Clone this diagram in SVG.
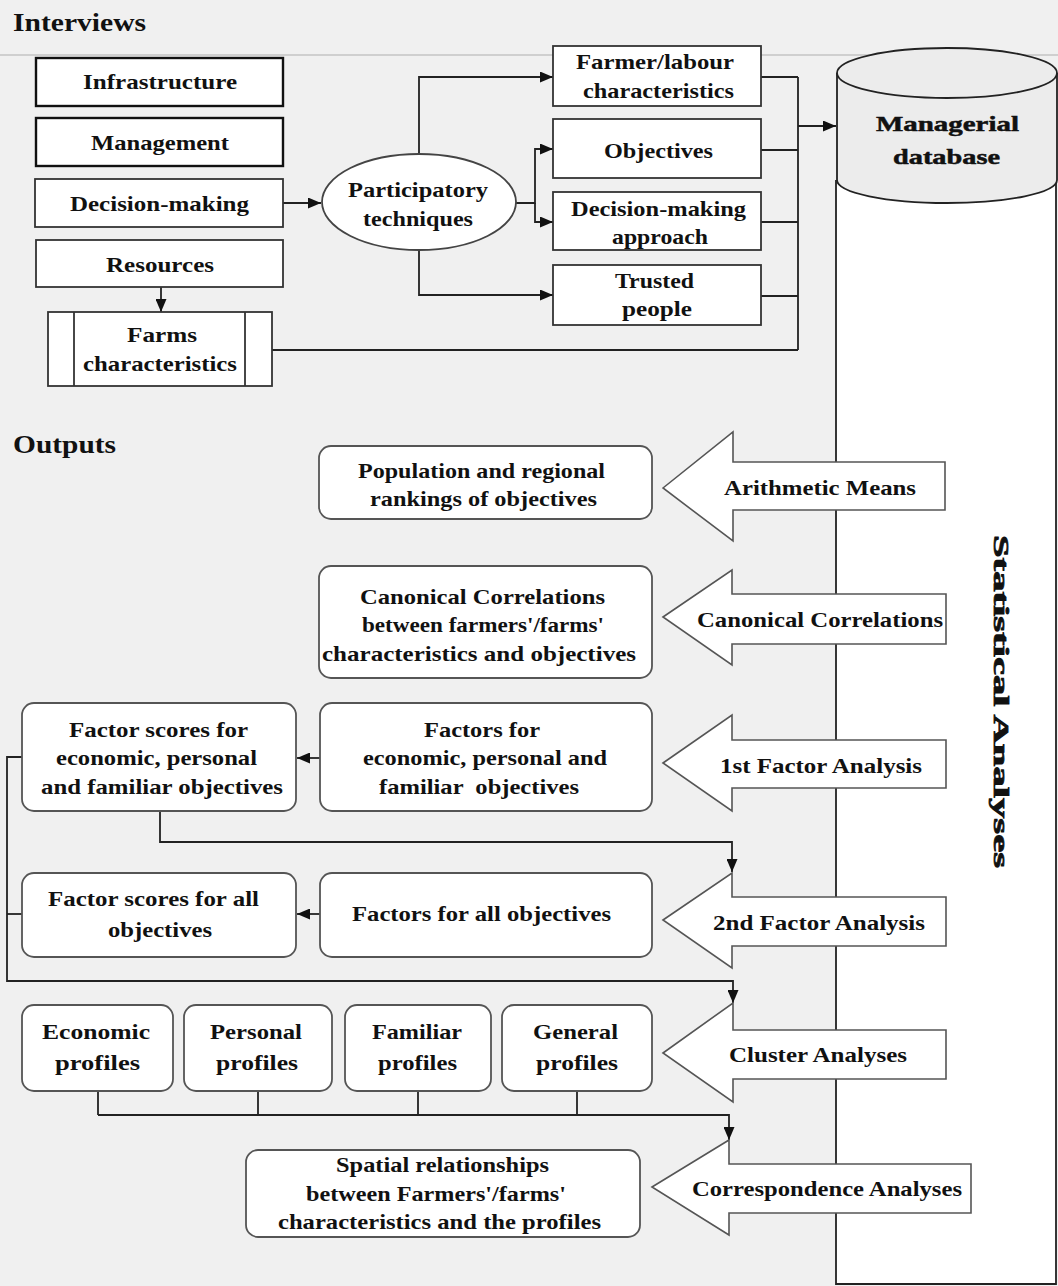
<svg xmlns="http://www.w3.org/2000/svg" width="1058" height="1286" viewBox="0 0 1058 1286">
<style>
.t{font-family:"Liberation Serif","DejaVu Serif",serif;font-weight:bold;font-size:22px;fill:#111}
.h{font-size:25px}
.bx{fill:#fff;stroke:#333;stroke-width:1.8}
.bk{fill:#fff;stroke:#111;stroke-width:2.4}
.rb{fill:#fff;stroke:#555;stroke-width:1.8}
.ba{fill:#fff;stroke:#555;stroke-width:1.6}
.c{fill:none;stroke:#222;stroke-width:1.8}
</style>
<defs>
<marker id="ah" markerWidth="13" markerHeight="11" refX="13" refY="5.5" orient="auto" markerUnits="userSpaceOnUse">
<path d="M0,0 L13,5.5 L0,11 z" fill="#111"/>
</marker>
</defs>
<rect x="0" y="0" width="1058" height="1286" fill="#f0f0f0"/>
<line x1="0" y1="55" x2="1058" y2="55" stroke="#c4c4c4" stroke-width="1.5"/>

<text class="t h" x="13" y="31" textLength="133" lengthAdjust="spacingAndGlyphs">Interviews</text>
<text class="t h" x="13" y="453" font-size="24" textLength="103" lengthAdjust="spacingAndGlyphs">Outputs</text>

<!-- Statistical analyses body and database -->
<g id="stats">
<path d="M836,180 V1284 H1056 V180" fill="#fff" stroke="#222" stroke-width="1.8"/>
<text class="t" transform="translate(994,535) rotate(90)" x="0" y="0" font-size="46" stroke="#111" stroke-width="0.8" textLength="333" lengthAdjust="spacingAndGlyphs">Statistical Analyses</text>
</g>
<g id="database">
<path d="M837,73 V180 A110,23 0 0 0 1057,180 V73" fill="#ececec" stroke="#222" stroke-width="1.8"/>
<ellipse cx="947" cy="73" rx="110" ry="25" fill="#ececec" stroke="#222" stroke-width="1.8"/>
<text class="t" x="876" y="131" font-size="27" stroke="#111" stroke-width="0.5" textLength="143" lengthAdjust="spacingAndGlyphs">Managerial</text>
<text class="t" x="893" y="164" font-size="27" stroke="#111" stroke-width="0.5" textLength="107" lengthAdjust="spacingAndGlyphs">database</text>
</g>

<g id="connectors">
<path class="c" d="M283,203 H321" marker-end="url(#ah)"/>
<path class="c" d="M161,287 V312" marker-end="url(#ah)"/>
<path class="c" d="M419,154 V77 H553" marker-end="url(#ah)"/>
<path class="c" d="M516,203 H535 V149 H553" marker-end="url(#ah)"/>
<path class="c" d="M535,203 V222 H553" marker-end="url(#ah)"/>
<path class="c" d="M419,250 V295 H553" marker-end="url(#ah)"/>
<path class="c" d="M761,77 H798 M761,150 H798 M761,222 H798 M761,296 H798 M798,77 V350 M272,350 H798"/>
<path class="c" d="M798,126 H836" marker-end="url(#ah)"/>
<path class="c" d="M320,758 H297" marker-end="url(#ah)"/>
<path class="c" d="M320,914 H297" marker-end="url(#ah)"/>
<path class="c" d="M160,811 V842 H732 V872" marker-end="url(#ah)"/>
<path class="c" d="M22,757 H7 V981 H733 V1003" marker-end="url(#ah)"/>
<path class="c" d="M22,914 H7"/>
<path class="c" d="M98,1091 V1115 M258,1091 V1115 M418,1091 V1115 M577,1091 V1115"/>
<path class="c" d="M98,1115 H729 V1140" marker-end="url(#ah)"/>
</g>

<g id="infrastructure"><rect class="bk" x="36" y="58" width="247" height="48"/>
<text class="t" x="83" y="89" textLength="154" lengthAdjust="spacingAndGlyphs">Infrastructure</text></g>
<g id="management"><rect class="bk" x="36" y="118" width="247" height="48"/>
<text class="t" x="91" y="150" textLength="138" lengthAdjust="spacingAndGlyphs">Management</text></g>
<g id="decision-making"><rect class="bx" x="35" y="179" width="248" height="48" stroke="#555"/>
<text class="t" x="70" y="211" textLength="179" lengthAdjust="spacingAndGlyphs">Decision-making</text></g>
<g id="resources"><rect class="bx" x="36" y="240" width="247" height="47"/>
<text class="t" x="106" y="272" textLength="108" lengthAdjust="spacingAndGlyphs">Resources</text></g>
<g id="farms"><rect class="bx" x="48" y="312" width="224" height="74"/>
<line x1="74" y1="312" x2="74" y2="386" stroke="#333" stroke-width="1.8"/>
<line x1="245" y1="312" x2="245" y2="386" stroke="#333" stroke-width="1.8"/>
<text class="t" x="127" y="342" textLength="70" lengthAdjust="spacingAndGlyphs">Farms</text>
<text class="t" x="83" y="371" textLength="154" lengthAdjust="spacingAndGlyphs">characteristics</text></g>

<g id="participatory"><ellipse cx="419" cy="202" rx="97" ry="48" fill="#fff" stroke="#444" stroke-width="1.8"/>
<text class="t" x="348" y="197" textLength="140" lengthAdjust="spacingAndGlyphs">Participatory</text>
<text class="t" x="363" y="226" textLength="110" lengthAdjust="spacingAndGlyphs">techniques</text></g>

<g id="farmer-labour"><rect class="bx" x="553" y="46" width="208" height="60"/>
<text class="t" x="576" y="69" textLength="158" lengthAdjust="spacingAndGlyphs">Farmer/labour</text>
<text class="t" x="583" y="98" textLength="151" lengthAdjust="spacingAndGlyphs">characteristics</text></g>
<g id="objectives"><rect class="bx" x="553" y="119" width="208" height="59"/>
<text class="t" x="604" y="158" textLength="109" lengthAdjust="spacingAndGlyphs">Objectives</text></g>
<g id="decision-approach"><rect class="bx" x="553" y="192" width="208" height="58"/>
<text class="t" x="571" y="216" textLength="175" lengthAdjust="spacingAndGlyphs">Decision-making</text>
<text class="t" x="612" y="244" textLength="96" lengthAdjust="spacingAndGlyphs">approach</text></g>
<g id="trusted"><rect class="bx" x="553" y="265" width="208" height="60"/>
<text class="t" x="615" y="288" textLength="79" lengthAdjust="spacingAndGlyphs">Trusted</text>
<text class="t" x="622" y="316" textLength="70" lengthAdjust="spacingAndGlyphs">people</text></g>

<g id="arr-arithmetic"><polygon class="ba" points="663,488 733,432 733,462 945,462 945,510 733,510 733,541"/>
<text class="t" x="724" y="495" font-size="21" textLength="192" lengthAdjust="spacingAndGlyphs">Arithmetic Means</text></g>
<g id="arr-canonical"><polygon class="ba" points="663,617 732,570 732,594 946,594 946,644 732,644 732,665"/>
<text class="t" x="697" y="627" font-size="21" textLength="246" lengthAdjust="spacingAndGlyphs">Canonical Correlations</text></g>
<g id="arr-1st"><polygon class="ba" points="663,763 732,715 732,740 946,740 946,788 732,788 732,811"/>
<text class="t" x="720" y="773" font-size="21" textLength="202" lengthAdjust="spacingAndGlyphs">1st Factor Analysis</text></g>
<g id="arr-2nd"><polygon class="ba" points="663,920 732,873 732,897 946,897 946,946 732,946 732,968"/>
<text class="t" x="713" y="930" font-size="21" textLength="212" lengthAdjust="spacingAndGlyphs">2nd Factor Analysis</text></g>
<g id="arr-cluster"><polygon class="ba" points="663,1053 733,1003 733,1030 946,1030 946,1079 733,1079 733,1102"/>
<text class="t" x="729" y="1062" font-size="21" textLength="178" lengthAdjust="spacingAndGlyphs">Cluster Analyses</text></g>
<g id="arr-correspondence"><polygon class="ba" points="652,1187 729,1140 729,1164 971,1164 971,1213 729,1213 729,1235"/>
<text class="t" x="692" y="1196" font-size="21" textLength="270" lengthAdjust="spacingAndGlyphs">Correspondence Analyses</text></g>

<g id="population"><rect class="rb" x="319" y="446" width="333" height="73" rx="12"/>
<text class="t" x="358" y="478" textLength="247" lengthAdjust="spacingAndGlyphs">Population and regional</text>
<text class="t" x="370" y="506" textLength="227" lengthAdjust="spacingAndGlyphs">rankings of objectives</text></g>
<g id="canonical"><rect class="rb" x="319" y="566" width="333" height="112" rx="12"/>
<text class="t" x="360" y="604" textLength="245" lengthAdjust="spacingAndGlyphs">Canonical Correlations</text>
<text class="t" x="362" y="632" textLength="242" lengthAdjust="spacingAndGlyphs">between farmers'/farms'</text>
<text class="t" x="322" y="661" textLength="314" lengthAdjust="spacingAndGlyphs">characteristics and objectives</text></g>
<g id="factor-scores-epf"><rect class="rb" x="22" y="703" width="274" height="108" rx="12"/>
<text class="t" x="69" y="737" textLength="179" lengthAdjust="spacingAndGlyphs">Factor scores for</text>
<text class="t" x="56" y="765" textLength="201" lengthAdjust="spacingAndGlyphs">economic, personal</text>
<text class="t" x="41" y="794" textLength="242" lengthAdjust="spacingAndGlyphs">and familiar objectives</text></g>
<g id="factors-epf"><rect class="rb" x="320" y="703" width="332" height="108" rx="12"/>
<text class="t" x="424" y="737" textLength="116" lengthAdjust="spacingAndGlyphs">Factors for</text>
<text class="t" x="363" y="765" textLength="244" lengthAdjust="spacingAndGlyphs">economic, personal and</text>
<text class="t" x="379" y="794" textLength="200" lengthAdjust="spacingAndGlyphs" xml:space="preserve">familiar  objectives</text></g>
<g id="factor-scores-all"><rect class="rb" x="22" y="873" width="274" height="84" rx="12"/>
<text class="t" x="48" y="906" textLength="211" lengthAdjust="spacingAndGlyphs">Factor scores for all</text>
<text class="t" x="108" y="937" textLength="104" lengthAdjust="spacingAndGlyphs">objectives</text></g>
<g id="factors-all"><rect class="rb" x="320" y="873" width="332" height="84" rx="12"/>
<text class="t" x="352" y="921" textLength="259" lengthAdjust="spacingAndGlyphs">Factors for all objectives</text></g>

<g id="economic"><rect class="rb" x="22" y="1005" width="151" height="86" rx="12"/>
<text class="t" x="42" y="1039" textLength="108" lengthAdjust="spacingAndGlyphs">Economic</text>
<text class="t" x="55" y="1070" textLength="85" lengthAdjust="spacingAndGlyphs">profiles</text></g>
<g id="personal"><rect class="rb" x="184" y="1005" width="148" height="86" rx="12"/>
<text class="t" x="210" y="1039" textLength="92" lengthAdjust="spacingAndGlyphs">Personal</text>
<text class="t" x="216" y="1070" textLength="82" lengthAdjust="spacingAndGlyphs">profiles</text></g>
<g id="familiar"><rect class="rb" x="345" y="1005" width="146" height="86" rx="12"/>
<text class="t" x="372" y="1039" textLength="90" lengthAdjust="spacingAndGlyphs">Familiar</text>
<text class="t" x="378" y="1070" textLength="79" lengthAdjust="spacingAndGlyphs">profiles</text></g>
<g id="general"><rect class="rb" x="502" y="1005" width="150" height="86" rx="12"/>
<text class="t" x="533" y="1039" textLength="85" lengthAdjust="spacingAndGlyphs">General</text>
<text class="t" x="536" y="1070" textLength="82" lengthAdjust="spacingAndGlyphs">profiles</text></g>
<g id="spatial"><rect class="rb" x="246" y="1150" width="394" height="87" rx="12"/>
<text class="t" x="336" y="1172" textLength="213" lengthAdjust="spacingAndGlyphs">Spatial relationships</text>
<text class="t" x="306" y="1201" textLength="260" lengthAdjust="spacingAndGlyphs">between Farmers'/farms'</text>
<text class="t" x="278" y="1229" textLength="323" lengthAdjust="spacingAndGlyphs">characteristics and the profiles</text></g>
</svg>
